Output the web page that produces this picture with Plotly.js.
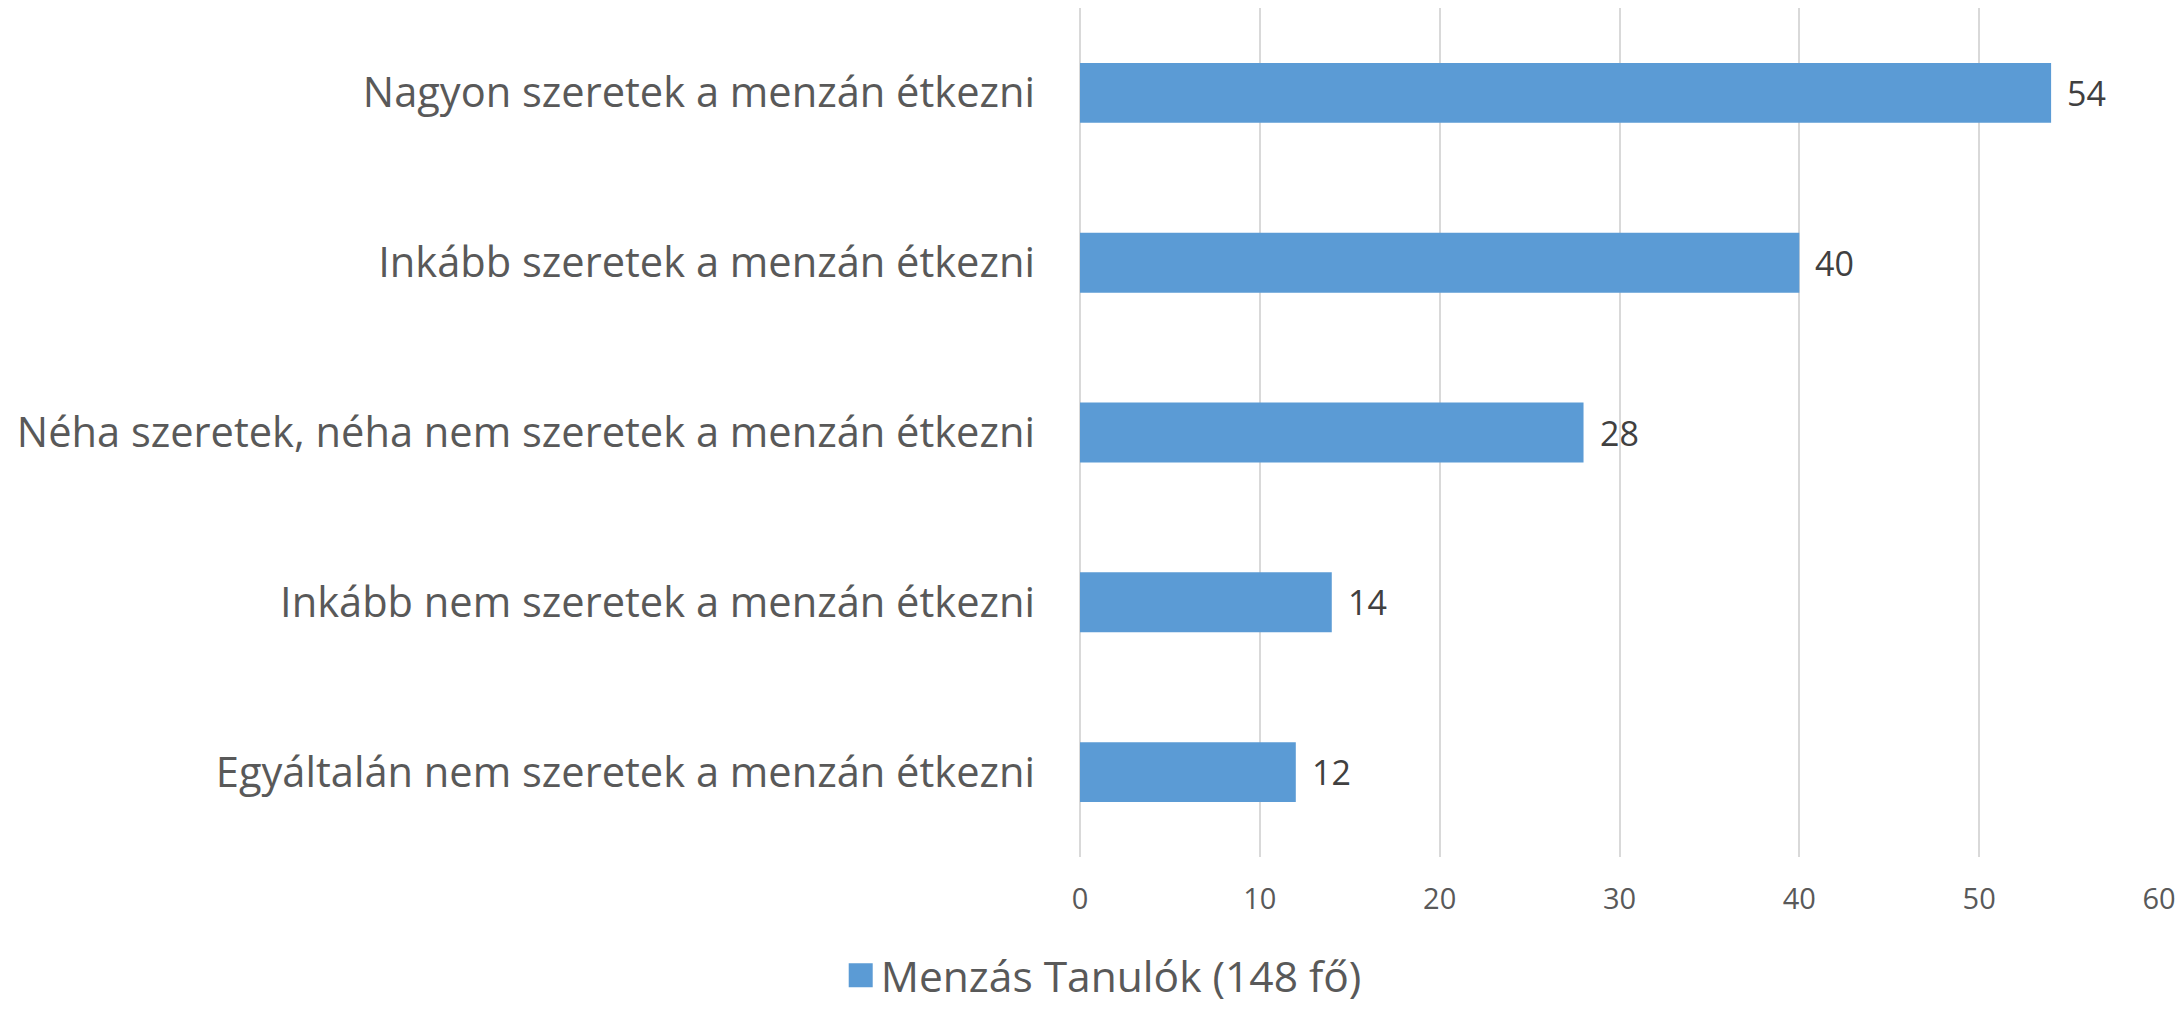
<!DOCTYPE html>
<html>
<head>
<meta charset="utf-8">
<script src="https://cdn.plot.ly/plotly-3.0.1.min.js"></script>
<style>html,body{margin:0;padding:0;background:#fff;}#chart{width:2178px;height:1011px;}</style>
</head>
<body>
<div id="chart"></div>
<script>
const categories = [
  "Nagyon szeretek a menzán étkezni",
  "Inkább szeretek a menzán étkezni",
  "Néha szeretek, néha nem szeretek a menzán étkezni",
  "Inkább nem szeretek a menzán étkezni",
  "Egyáltalán nem szeretek a menzán étkezni"
];
const values = [54, 40, 28, 14, 12];
const seriesName = "Menzás Tanulók (148 fő)";
const xTicks = [0, 10, 20, 30, 40, 50, 60];

const FONT = "'Open Sans', sans-serif";

const trace = {
  type: "bar",
  orientation: "h",
  x: values,
  y: categories,
  name: seriesName,
  marker: {color: "#5B9BD5"},
  hoverinfo: "x+y"
};

const annotations = values.map((v, i) => ({
  x: v, y: categories[i], xref: "x", yref: "y",
  text: String(v), showarrow: false, xanchor: "left", yanchor: "middle",
  xshift: 14, font: {family: FONT, size: 34, color: "#404040"}
}));

const layout = {
  width: 2178, height: 1011,
  margin: {l: 1080, r: 19, t: 8, b: 154, autoexpand: false},
  paper_bgcolor: "#fff", plot_bgcolor: "#fff",
  font: {family: FONT, color: "#595959"},
  bargap: 0.647,
  xaxis: {
    range: [0, 60], tickvals: xTicks, ticktext: xTicks.map(String),
    showgrid: true, gridcolor: "#D9D9D9", gridwidth: 2,
    zeroline: true, zerolinecolor: "#D9D9D9", zerolinewidth: 2,
    showline: false, ticks: "", ticklabelstandoff: 22,
    tickfont: {family: FONT, size: 29, color: "#595959"}
  },
  yaxis: {
    autorange: "reversed", type: "category",
    showgrid: false, zeroline: false, showline: false, ticks: "",
    ticklabelstandoff: 44,
    tickfont: {family: FONT, size: 41.6, color: "#595959"}
  },
  showlegend: true,
  legend: {
    orientation: "h", xref: "container", yref: "container",
    x: 0.386, xanchor: "left", y: 0.035, yanchor: "middle",
    font: {family: FONT, size: 42.5, color: "#595959"},
    itemwidth: 30, bgcolor: "rgba(0,0,0,0)"
  },
  annotations: annotations
};

Plotly.newPlot("chart", [trace], layout, {displayModeBar: false, staticPlot: true}).then(() => {
  document.querySelectorAll("#chart .legendpoints path").forEach(p => {
    p.setAttribute("d", "M12,12H-12V-12H12Z");
    p.style.strokeWidth = "0";
  });
});
</script>
</body>
</html>
